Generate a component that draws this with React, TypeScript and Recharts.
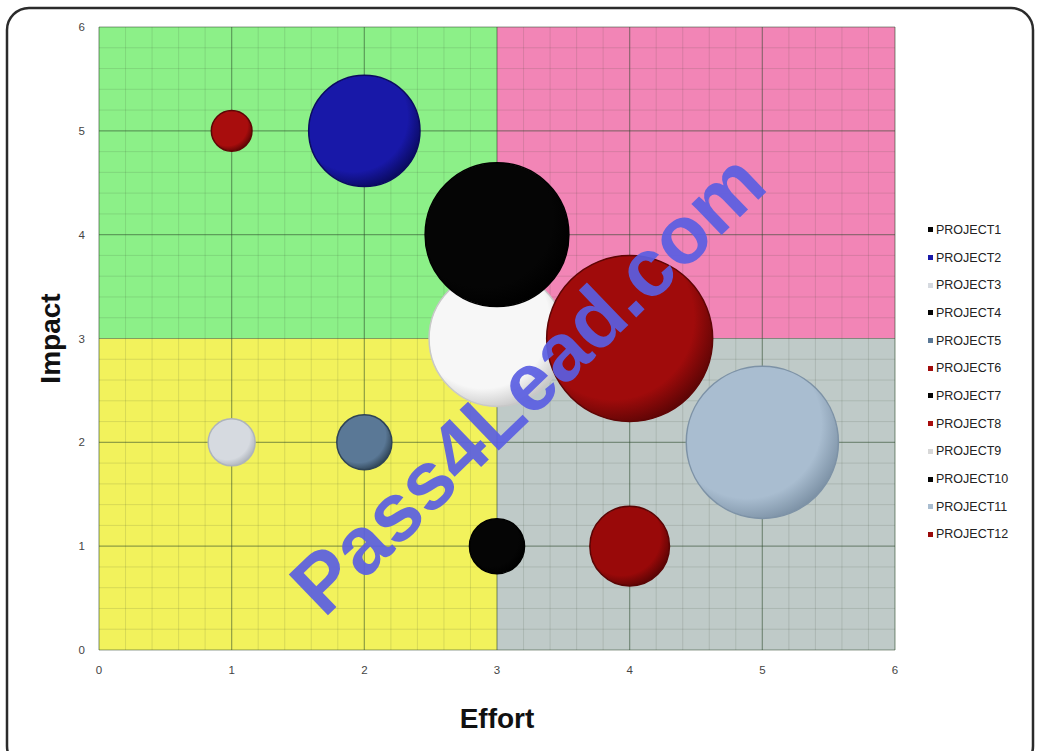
import React from 'react';
import {
  ScatterChart,
  Scatter,
  XAxis,
  YAxis,
  ZAxis,
  ReferenceArea,
  ReferenceLine,
  Legend,
} from 'recharts';

// project data
const projects = [
  'PROJECT1', 'PROJECT2', 'PROJECT3', 'PROJECT4', 'PROJECT5', 'PROJECT6',
  'PROJECT7', 'PROJECT8', 'PROJECT9', 'PROJECT10', 'PROJECT11', 'PROJECT12',
];
const effort = [3, 2, 1, 3, 2, 4, 3, 1, 3, 3, 5, 4];
const impact = [4, 5, 2, 1, 2, 3, 4, 5, 3, 4, 2, 1];
const bubbleSize = [75, 45, 8, 11, 11, 100, 5, 6, 67, 5, 84, 23];

const axisTicks = [0, 1, 2, 3, 4, 5, 6];

// quadrants: [x1, x2, y1, y2]
const quadrants = [
  [0, 3, 3, 6],
  [3, 6, 3, 6],
  [0, 3, 0, 3],
  [3, 6, 0, 3],
];
const quadrantColors = ['#8cf088', '#f285b6', '#f2f25c', '#bfcac8'];

const bubbleColors = [
  '#050505', '#1818a8', '#d6dae0', '#050505', '#5a7896', '#a00b0b',
  '#050505', '#a80d0d', '#f7f7f7', '#050505', '#a9bdd0', '#990909',
];
const edgeColors = [
  '#000000', '#0a0a60', '#aeb4bc', '#000000', '#2f4456', '#5e0505',
  '#000000', '#5e0505', '#c8c8c8', '#000000', '#7d92a6', '#5a0404',
];

// white bubble and the two hidden ones first, the rest stack on top
const drawOrder = [8, 6, 9, 0, 1, 2, 3, 4, 5, 7, 10, 11];

const minorTicks: number[] = [];
for (let i = 0; i <= 30; i++) minorTicks.push(i / 5);

const MAX_R = 83;

function makeShape(idx: number) {
  return (props: any) => {
    const { cx, cy } = props;
    const r = props.width ? props.width / 2 : Math.sqrt((props.size || 0) / Math.PI);
    const id = `bub${idx}`;
    return (
      <g>
        <defs>
          <radialGradient id={id} cx="40%" cy="38%" r="65%">
            <stop offset="0%" stopColor={bubbleColors[idx]} stopOpacity={1} />
            <stop offset="75%" stopColor={bubbleColors[idx]} />
            <stop offset="100%" stopColor={edgeColors[idx]} />
          </radialGradient>
        </defs>
        <circle cx={cx} cy={cy} r={r} fill={`url(#${id})`} stroke={edgeColors[idx]} strokeWidth={1.5} />
      </g>
    );
  };
}

function ProjectLegend() {
  return (
    <div style={{ fontFamily: 'Arial, "Liberation Sans", sans-serif', fontSize: 12.5, color: '#222' }}>
      {projects.map((p, i) => (
        <div key={p} style={{ height: 27.7, display: 'flex', alignItems: 'center' }}>
          <span
            style={{
              display: 'inline-block',
              width: 5,
              height: 5,
              marginRight: 3,
              background: bubbleColors[i] === '#f7f7f7' ? '#d8d8d8' : bubbleColors[i],
            }}
          />
          <span>{p}</span>
        </div>
      ))}
    </div>
  );
}

export default function App() {
  return (
    <div style={{ position: 'absolute', left: 0, top: 0, width: 1039, height: 751, background: '#fff' }}>
      <ScatterChart
        width={1039}
        height={751}
        margin={{ top: 27, right: 144, bottom: 11, left: 0 }}
      >
        <XAxis
          type="number"
          dataKey="x"
          domain={[0, 6]}
          ticks={axisTicks}
          height={90}
          axisLine={false}
          tickLine={false}
          tickMargin={10}
          tick={{ fontSize: 11.5, fill: '#444', fontFamily: 'Arial, sans-serif' }}
          label={{
            value: 'Effort',
            position: 'insideBottom',
            offset: 12,
            style: { fontSize: 28, fontWeight: 'bold', fill: '#111', fontFamily: 'Arial, "Liberation Sans", sans-serif' },
          }}
        />
        <YAxis
          type="number"
          dataKey="y"
          domain={[0, 6]}
          ticks={axisTicks}
          width={99}
          axisLine={false}
          tickLine={false}
          tickMargin={8}
          tick={{ fontSize: 11.5, fill: '#444', fontFamily: 'Arial, sans-serif' }}
          label={{
            value: 'Impact',
            position: 'insideLeft',
            angle: -90,
            offset: 50,
            style: { textAnchor: 'middle', fontSize: 28, fontWeight: 'bold', fill: '#111', fontFamily: 'Arial, "Liberation Sans", sans-serif' },
          }}
        />
        <ZAxis type="number" dataKey="z" domain={[0, 100]} range={[0, Math.PI * MAX_R * MAX_R]} />

        {quadrants.map((q, i) => (
          <ReferenceArea
            key={`q${i}`}
            x1={q[0]}
            x2={q[1]}
            y1={q[2]}
            y2={q[3]}
            fill={quadrantColors[i]}
            fillOpacity={1}
            stroke="none"
          />
        ))}
        {minorTicks.map((t) => (
          <ReferenceLine key={`mx${t}`} x={t} stroke="#3a4a30" strokeOpacity={0.14} strokeWidth={1} />
        ))}
        {minorTicks.map((t) => (
          <ReferenceLine key={`my${t}`} y={t} stroke="#3a4a30" strokeOpacity={0.14} strokeWidth={1} />
        ))}
        {axisTicks.map((t) => (
          <ReferenceLine key={`Mx${t}`} x={t} stroke="#2a4a2a" strokeOpacity={0.42} strokeWidth={1.2} />
        ))}
        {axisTicks.map((t) => (
          <ReferenceLine key={`My${t}`} y={t} stroke="#2a4a2a" strokeOpacity={0.42} strokeWidth={1.2} />
        ))}

        {drawOrder.map((i) => (
          <Scatter
            key={projects[i]}
            name={projects[i]}
            data={[{ x: effort[i], y: impact[i], z: bubbleSize[i] }]}
            fill={bubbleColors[i]}
            shape={makeShape(i)}
            isAnimationActive={false}
          />
        ))}

        <Legend
          layout="vertical"
          align="center"
          verticalAlign="middle"
          content={() => <ProjectLegend />}
          wrapperStyle={{ left: 928, top: 216, width: 110 }}
        />
      </ScatterChart>

      <svg
        width={1039}
        height={751}
        style={{ position: 'absolute', left: 0, top: 0, pointerEvents: 'none' }}
      >
        <rect x={7} y={8} width={1026} height={760} rx={22} fill="none" stroke="#2b2b2b" strokeWidth={2.5} />
        <text
          x={532}
          y={388}
          transform="rotate(-44 532 388)"
          textAnchor="middle"
          dominantBaseline="middle"
          fontFamily='Arial, "Liberation Sans", sans-serif'
          fontWeight="bold"
          fontSize={82}
          fill="#5a5ee2"
          fillOpacity={0.92}
        >
          Pass4Lead.com
        </text>
      </svg>
    </div>
  );
}
